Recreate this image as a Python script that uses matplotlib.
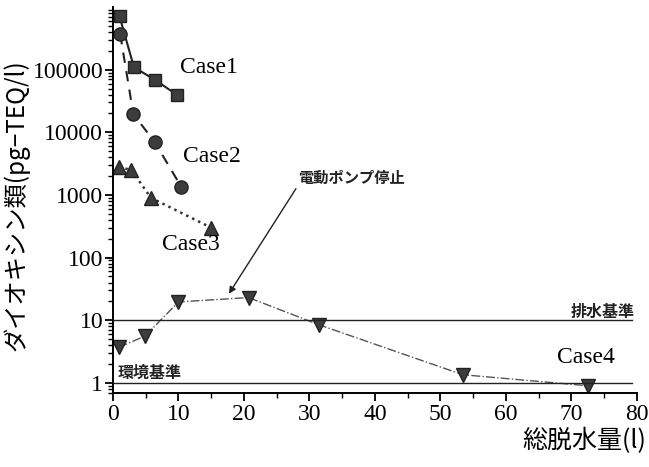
import matplotlib.pyplot as plt
from matplotlib.ticker import FixedLocator, NullFormatter, LogLocator
import numpy as np

case1_x = [1.0, 3.2, 6.4, 9.7]
case1_y = [710000, 109000, 69000, 40000]
case2_x = [1.1, 3.1, 6.4, 10.4]
case2_y = [370000, 19600, 6900, 1360]
case3_x = [0.9, 2.8, 5.8, 15.0]
case3_y = [2800, 2500, 900, 300]
case4_x = [0.9, 4.9, 10.0, 20.7, 31.4, 53.4, 72.5]
case4_y = [3.7, 5.6, 19.6, 23.0, 8.5, 1.35, 0.9]

y_ticks = [1, 10, 100, 1000, 10000, 100000]
x_ticks = [0, 10, 20, 30, 40, 50, 60, 70, 80]

jp = ['Noto Sans CJK JP', 'DejaVu Sans']
serif = 'Liberation Serif'
mk = '#3c3c3c'

fig = plt.figure(figsize=(6.49, 4.67), dpi=100)
ax = fig.add_axes([0.1741, 0.1585, 0.8074, 0.8265])

ax.plot(case1_x, case1_y, '-', color='#222222', lw=1.5, marker='s', ms=8.5,
        mfc=mk, mec='#222222')
ax.plot(case2_x, case2_y, '--', color='#222222', lw=1.5, marker='o', ms=9.5,
        mfc=mk, mec='#222222', dashes=(5, 4))
ax.plot(case3_x, case3_y, ':', color='#333333', lw=1.8, marker='^', ms=10,
        mfc=mk, mec='#222222')
ax.plot(case4_x, case4_y, '-.', color='#555555', lw=1.0, marker='v', ms=10.5,
        mfc=mk, mec='#222222')

# 基準線
ax.plot([0, 79.2], [10, 10], color='#222222', lw=1.0)
ax.plot([0, 79.2], [1, 1], color='#222222', lw=1.0)

ax.set_yscale('log')
ax.set_xlim(0, 80)
ax.set_ylim(0.69, 1e6)

ax.yaxis.set_major_locator(FixedLocator(y_ticks))
ax.set_yticklabels([str(v) for v in y_ticks])
ax.yaxis.set_minor_locator(LogLocator(base=10, subs=np.arange(2, 10)))
ax.yaxis.set_minor_formatter(NullFormatter())
ax.set_xticks(x_ticks)
ax.set_xticks(np.arange(5, 80, 10), minor=True)

for lab in ax.get_xticklabels() + ax.get_yticklabels():
    lab.set_fontfamily(serif)
    lab.set_fontsize(17)

ax.tick_params(which='major', direction='out', length=6, width=1.3)
ax.tick_params(which='minor', direction='out', length=3.5, width=1.0)
ax.tick_params(axis='x', pad=2)
ax.tick_params(axis='y', pad=1)
ax.spines['top'].set_visible(False)
ax.spines['right'].set_visible(False)
ax.spines['left'].set_linewidth(1.4)
ax.spines['bottom'].set_linewidth(1.4)

ax.text(10.2, 107000, 'Case1', family=serif, fontsize=17, va='center')
ax.text(10.7, 4070, 'Case2', family=serif, fontsize=17, va='center')
ax.text(7.5, 160, 'Case3', family=serif, fontsize=17, va='center')
ax.text(67.8, 2.5, 'Case4', family=serif, fontsize=17, va='center')

ax.text(79.7, 13.6, '排水基準', family=jp, fontsize=11.5, fontweight='bold',
        color='#222222', ha='right', va='center')
ax.text(0.7, 1.44, '環境基準', family=jp, fontsize=11.5, fontweight='bold',
        color='#222222', ha='left', va='center')

ax.annotate('電動ポンプ停止', xy=(17.7, 26.5), xytext=(28.2, 1870),
            family=jp, fontsize=11, fontweight='bold', color='#222222',
            va='center', ha='left',
            arrowprops=dict(arrowstyle='-|>', color='#222222', lw=1.0,
                            shrinkA=0, shrinkB=0, mutation_scale=10,
                            relpos=(0, 0)))

fig.text(0.025, 0.56, 'ダイオキシン類(pg−TEQ/l)', family=jp, fontsize=17.5,
         rotation=90, ha='center', va='center')
fig.text(0.995, 0.055, '総脱水量(l)', family=jp, fontsize=18,
         ha='right', va='center')

plt.savefig('out.png', dpi=100)
